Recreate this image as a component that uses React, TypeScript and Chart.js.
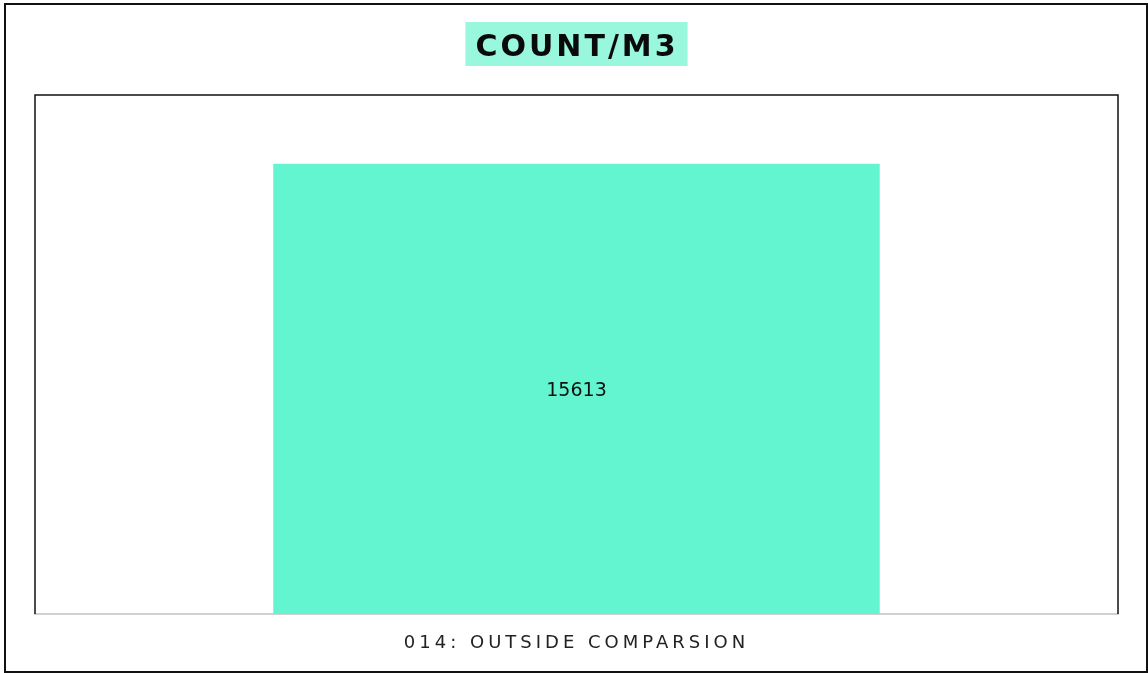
import React, { useEffect, useRef } from "react";
import { Chart, registerables } from "chart.js";

Chart.register(...registerables);

const categories = ["014: OUTSIDE COMPARSION"];
const values = [15613];
const yMax = 18000;
const titleText = "COUNT/M3";

const W = 1148;
const H = 673;

const plotBorder = {
  id: "plotBorder",
  afterDraw(chart: any) {
    const { ctx, chartArea } = chart;
    ctx.save();
    ctx.strokeStyle = "#111";
    ctx.lineWidth = 1.5;
    ctx.beginPath();
    ctx.moveTo(chartArea.left, chartArea.bottom);
    ctx.lineTo(chartArea.left, chartArea.top);
    ctx.lineTo(chartArea.right, chartArea.top);
    ctx.lineTo(chartArea.right, chartArea.bottom);
    ctx.stroke();
    ctx.restore();
  },
};

const spacing = {
  id: "spacing",
  beforeDraw(chart: any) {
    (chart.ctx as any).letterSpacing = "4px";
  },
};

const valueLabels = {
  id: "valueLabels",
  afterDatasetsDraw(chart: any) {
    const { ctx } = chart;
    const meta = chart.getDatasetMeta(0);
    ctx.save();
    (ctx as any).letterSpacing = "0px";
    ctx.font = "19px 'DejaVu Sans'";
    ctx.fillStyle = "#111";
    ctx.textAlign = "center";
    ctx.textBaseline = "middle";
    meta.data.forEach((bar: any, i: number) => {
      const v = chart.data.datasets[0].data[i];
      ctx.fillText(String(v), bar.x, (bar.y + bar.base) / 2 + 2);
    });
    ctx.restore();
  },
};

const titleBox = {
  id: "titleBox",
  afterDraw(chart: any) {
    const { ctx, chartArea } = chart;
    ctx.save();
    (ctx as any).letterSpacing = "3px";
    ctx.font = "bold 30px 'DejaVu Sans'";
    const w = ctx.measureText(titleText).width;
    const padL = 10;
    const padR = 9;
    const cx = (chartArea.left + chartArea.right) / 2;
    const boxW = w + padL + padR;
    const left = cx - boxW / 2;
    ctx.fillStyle = "#98f7dc";
    ctx.fillRect(left, 22, boxW, 44);
    ctx.fillStyle = "#0a0a0a";
    ctx.textAlign = "left";
    ctx.textBaseline = "alphabetic";
    ctx.fillText(titleText, left + padL, 56);
    ctx.restore();
  },
};

export default function App() {
  const ref = useRef<HTMLCanvasElement>(null);

  useEffect(() => {
    if (!ref.current) return;
    const chart = new Chart(ref.current, {
      type: "bar",
      data: {
        labels: categories,
        datasets: [
          {
            data: values,
            backgroundColor: "#62f5cf",
            categoryPercentage: 0.8,
            barPercentage: 0.7,
          },
        ],
      },
      options: {
        responsive: false,
        animation: false,
        devicePixelRatio: 1,
        layout: { padding: { left: 35, right: 30, top: 95, bottom: 0 } },
        plugins: {
          legend: { display: false },
          tooltip: { enabled: false },
          title: { display: false },
        },
        scales: {
          x: {
            grid: { display: false, drawTicks: false },
            border: { display: true, color: "#d0d0d0", width: 2 },
            ticks: {
              padding: 19,
              color: "#222",
              font: { family: "'DejaVu Sans'", size: 18 },
            },
            afterFit: (s: any) => {
              s.height = 59;
            },
          },
          y: { display: false, min: 0, max: yMax },
        },
      } as any,
      plugins: [spacing, valueLabels, plotBorder, titleBox],
    });
    return () => chart.destroy();
  }, []);

  return (
    <div style={{ position: "absolute", left: 0, top: 0, width: W, height: H, background: "#fff" }}>
      <canvas ref={ref} width={W} height={H} style={{ position: "absolute", left: 0, top: 0, width: W, height: H }} />
      <div
        style={{
          position: "absolute",
          left: 4,
          top: 3,
          width: 1144,
          height: 670,
          boxSizing: "border-box",
          border: "2px solid #111",
          pointerEvents: "none",
        }}
      />
    </div>
  );
}
